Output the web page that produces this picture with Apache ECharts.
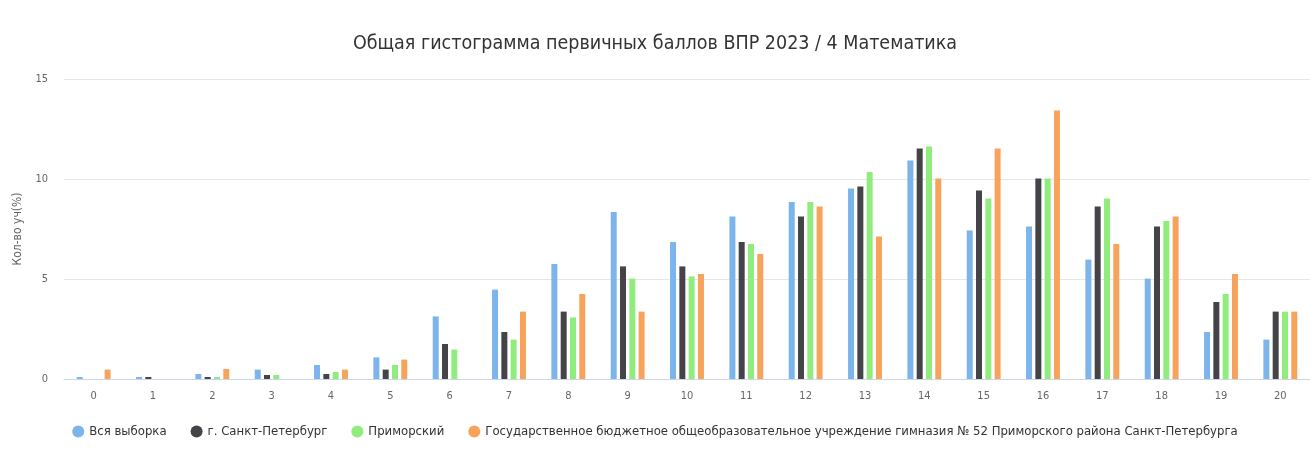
<!DOCTYPE html>
<html>
<head>
<meta charset="utf-8">
<script src="https://cdn.jsdelivr.net/npm/echarts@6/dist/echarts.min.js"></script>
<style>html,body{margin:0;padding:0;background:#fff}#c{width:1310px;height:452px}</style>
</head>
<body>
<div id="c"></div>
<script>
const categories = ['0','1','2','3','4','5','6','7','8','9','10','11','12','13','14','15','16','17','18','19','20'];
const seriesNames = ['Вся выборка','г. Санкт-Петербург','Приморский','Государственное бюджетное общеобразовательное учреждение гимназия № 52 Приморского района Санкт-Петербурга'];
const allSample = [0.1,0.1,0.25,0.47,0.7,1.08,3.13,4.47,5.75,8.35,6.85,8.13,8.85,9.52,10.92,7.42,7.63,5.97,5.02,2.35,1.97];
const spb       = [0,0.1,0.1,0.2,0.25,0.47,1.75,2.35,3.37,5.63,5.63,6.85,8.13,9.63,11.52,9.42,10.03,8.63,7.63,3.85,3.37];
const primorsky = [0,0,0.1,0.2,0.35,0.7,1.47,1.97,3.08,5.02,5.13,6.75,8.85,10.35,11.63,9.02,10.03,9.02,7.9,4.25,3.37];
const school    = [0.47,0,0.5,0,0.47,0.97,0,3.37,4.25,3.37,5.25,6.25,8.63,7.13,10.03,11.52,13.42,6.75,8.13,5.25,3.37];
const yTicks = [0,5,10,15];
const colors = ['#7cb5ec','#434348','#90ed7d','#f7a35c'];
const font = '"DejaVu Sans Condensed", "DejaVu Sans", sans-serif';

const data = [allSample, spb, primorsky, school];
const chart = echarts.init(document.getElementById('c'));
chart.setOption({
  animation: false,
  color: colors,
  title: {
    text: 'Общая гистограмма первичных баллов ВПР 2023 / 4 Математика',
    left: 'center', top: 29,
    textStyle: {fontFamily: font, fontSize: 19.5, fontWeight: 'normal', color: '#333'}
  },
  legend: {
    bottom: 9, left: 'center',
    icon: 'circle', itemWidth: 12, itemHeight: 12, itemGap: 24,
    textStyle: {fontFamily: font, fontSize: 13, fontWeight: 'normal', color: '#333'},
    data: seriesNames
  },
  grid: {left: 64, right: 0, top: 79, bottom: 73},
  xAxis: {
    type: 'category', data: categories,
    axisLine: {lineStyle: {color: '#ccd6eb'}},
    axisTick: {show: false},
    axisLabel: {color: '#666', fontSize: 11, fontFamily: font, margin: 12}
  },
  yAxis: {
    type: 'value', min: yTicks[0], max: yTicks[yTicks.length-1], interval: 5,
    name: 'Кол-во уч(%)', nameLocation: 'middle', nameGap: 40,
    nameTextStyle: {color: '#666', fontSize: 12, fontFamily: font},
    axisLabel: {color: '#666', fontSize: 11, fontFamily: font, margin: 16},
    splitLine: {lineStyle: {color: '#e6e6e6'}},
    axisLine: {show: false}, axisTick: {show: false}
  },
  series: seriesNames.map((n, i) => ({
    name: n, type: 'bar', data: data[i],
    barWidth: 6, barGap: '55%'
  }))
});
</script>
</body>
</html>
